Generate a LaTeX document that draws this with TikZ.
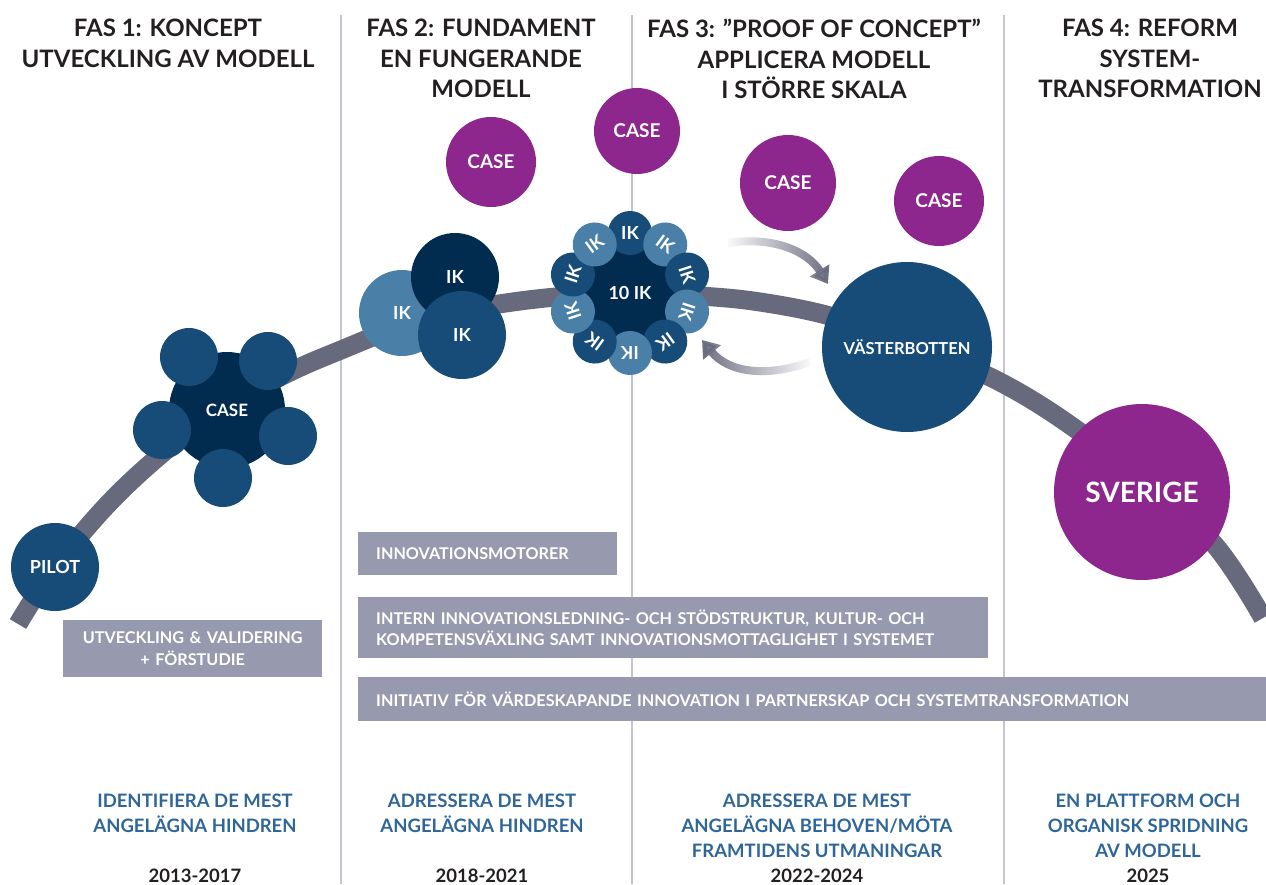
\documentclass[tikz,border=0pt]{standalone}
\usepackage{fontspec}
\setmainfont{Lato}
\usetikzlibrary{arrows.meta,fadings}
\definecolor{navy}{HTML}{022B50}
\definecolor{midblue}{HTML}{164C77}
\definecolor{lightblue}{HTML}{4A80A8}
\definecolor{purp}{HTML}{8E278D}
\definecolor{arcgray}{HTML}{676A7D}
\definecolor{bargray}{HTML}{979AAE}
\definecolor{sepgray}{HTML}{C3C6CE}
\definecolor{botblue}{HTML}{2F6699}
\definecolor{txtdark}{HTML}{231F20}
\tikzfading[name=fadeinright, left color=transparent!100, right color=transparent!0]
\tikzfading[name=fadeinleft, left color=transparent!0, right color=transparent!100]
\begin{document}
\begin{tikzpicture}[x=1pt,y=-1pt,
  disc/.style={circle, inner sep=0pt, text=white, font=\bfseries\fontsize{17}{17}\selectfont},
  header/.style={anchor=north, inner sep=0pt, align=center, text=txtdark, font=\bfseries\fontsize{24}{30.5}\selectfont},
  goal/.style={anchor=north, inner sep=0pt, align=center, text=botblue, font=\bfseries\fontsize{18.5}{25}\selectfont},
  year/.style={anchor=base, inner sep=0pt, text=txtdark, font=\bfseries\fontsize{18.5}{20}\selectfont},
  bar/.style={anchor=north west, fill=bargray, text=white, inner xsep=18pt, inner ysep=0pt, font=\bfseries\fontsize{16.2}{21.5}\selectfont},
  sep/.style={sepgray, line width=1.5pt},
  flow/.style={arcgray, line width=8pt, -{Triangle[width=22pt,length=16pt]}}
]
\useasboundingbox (0,0) rectangle (1266,884);

% separators
\draw[sep] (341,15) -- (341,884);
\draw[sep] (632,15) -- (632,884);
\draw[sep] (1004,15) -- (1004,884);

% headers
\node[header] (h1) at (168,19) {FAS 1: KONCEPT\\UTVECKLING AV MODELL};
\node[header] (h2) at (481,19) {FAS 2: FUNDAMENT\\EN FUNGERANDE\\MODELL};
\node[header] (h3) at (814,19) {FAS 3: ''PROOF OF CONCEPT''\\APPLICERA MODELL\\I STÖRRE SKALA};
\node[header] (h4) at (1150,19) {FAS 4: REFORM\\SYSTEM-\\TRANSFORMATION};

% main arc
\draw[arcgray, line width=19pt] plot[smooth, tension=0.6] coordinates {
 (18,624) (55,567) (110,502) (170,447) (228,405) (290,372) (341,350) (402,326)
 (460,311) (520,301) (580,295) (630,293) (700,296) (760,302) (830,316) (907,342)
 (1000,382) (1077,430) (1142,484) (1213,543) (1263,618)};

% fas 1
\node[disc, fill=midblue, minimum size=88pt, font=\bfseries\fontsize{18}{18}\selectfont] (pilot) at (55,567) {PILOT};
\node[disc, fill=navy, minimum size=116pt] (case0) at (227,410) {CASE};
\foreach \n/\px/\py in {cs1/189/357, cs2/268/361, cs3/162/430, cs4/288/436, cs5/223/478}
  \node[disc, fill=midblue, minimum size=58pt] (\n) at (\px,\py) {};

% fas 2 trio
\node[disc, fill=lightblue, minimum size=86pt, font=\bfseries\fontsize{18}{18}\selectfont] (ika) at (402,313) {IK};
\node[disc, fill=navy, minimum size=88pt, font=\bfseries\fontsize{18}{18}\selectfont] (ikb) at (455,277) {IK};
\node[disc, fill=midblue, minimum size=88pt, font=\bfseries\fontsize{18}{18}\selectfont] (ikc) at (462,335) {IK};

% 10 IK cluster
\node[disc, fill=navy, minimum size=114pt, font=\bfseries\fontsize{18}{18}\selectfont] (tenik) at (630,293) {10 IK};
\foreach \i/\c in {0/midblue,1/lightblue,2/midblue,3/lightblue,4/midblue,5/lightblue,6/midblue,7/lightblue,8/midblue,9/lightblue}{
  \pgfmathsetmacro\ang{90-36*\i}
  \pgfmathsetmacro\pang{36*\i-90}
  \pgfmathsetmacro\rot{\ang-90}
  \node[disc, fill=\c, minimum size=44pt, rotate=\rot, font=\bfseries\fontsize{18}{18}\selectfont] (ik\i) at ([shift={(\pang:60)}]630,293) {IK};
}

% purple case circles
\node[disc, fill=purp, minimum size=90pt, font=\bfseries\fontsize{19}{19}\selectfont] (pc1) at (491,162) {CASE};
\node[disc, fill=purp, minimum size=86pt, font=\bfseries\fontsize{19}{19}\selectfont] (pc2) at (637,131) {CASE};
\node[disc, fill=purp, minimum size=96pt, font=\bfseries\fontsize{19}{19}\selectfont] (pc3) at (788,183) {CASE};
\node[disc, fill=purp, minimum size=90pt, font=\bfseries\fontsize{19}{19}\selectfont] (pc4) at (939,201) {CASE};

% vasterbotten, sverige
\node[disc, fill=midblue, minimum size=170pt, font=\bfseries\fontsize{16.5}{17}\selectfont] (vb) at (907,347) {VÄSTERBOTTEN};
\node[disc, fill=purp, minimum size=176pt, font=\bfseries\fontsize{28}{28}\selectfont] (se) at (1142,492) {SVERIGE};

% flow arrows
\coordinate (fa1) at (728,243);
\coordinate (fa2) at (828,284);
\coordinate (fb1) at (810,362);
\coordinate (fb2) at (702,340);
\draw[flow, path fading=fadeinright] (fa1) .. controls (775,236) and (808,252) .. (fa2);
\draw[flow, path fading=fadeinleft] (fb1) .. controls (765,378) and (728,372) .. (fb2);

% bars
\node[bar, text width=223pt, minimum height=57pt, align=center] (b1) at (63,620) {UTVECKLING \& VALIDERING\\+ FÖRSTUDIE};
\node[bar, text width=223pt, minimum height=43pt, align=left] (b2) at (358,532) {INNOVATIONSMOTORER};
\node[bar, text width=594pt, minimum height=61pt, align=left] (b3) at (358,597) {INTERN INNOVATIONSLEDNING- OCH STÖDSTRUKTUR, KULTUR- OCH\\KOMPETENSVÄXLING SAMT INNOVATIONSMOTTAGLIGHET I SYSTEMET};
\node[bar, text width=872pt, minimum height=44pt, align=left] (b4) at (358,677) {INITIATIV FÖR VÄRDESKAPANDE INNOVATION I PARTNERSKAP OCH SYSTEMTRANSFORMATION};

% goals
\node[goal] (g1) at (195,794) {IDENTIFIERA DE MEST\\ANGELÄGNA HINDREN};
\node[goal] (g2) at (482,794) {ADRESSERA DE MEST\\ANGELÄGNA HINDREN};
\node[goal] (g3) at (817,794) {ADRESSERA DE MEST\\ANGELÄGNA BEHOVEN/MÖTA\\FRAMTIDENS UTMANINGAR};
\node[goal] (g4) at (1148,794) {EN PLATTFORM OCH\\ORGANISK SPRIDNING\\AV MODELL};

% years
\node[year] (y1) at (195,882) {2013-2017};
\node[year] (y2) at (482,882) {2018-2021};
\node[year] (y3) at (817,882) {2022-2024};
\node[year] (y4) at (1148,882) {2025};
\end{tikzpicture}
\end{document}
